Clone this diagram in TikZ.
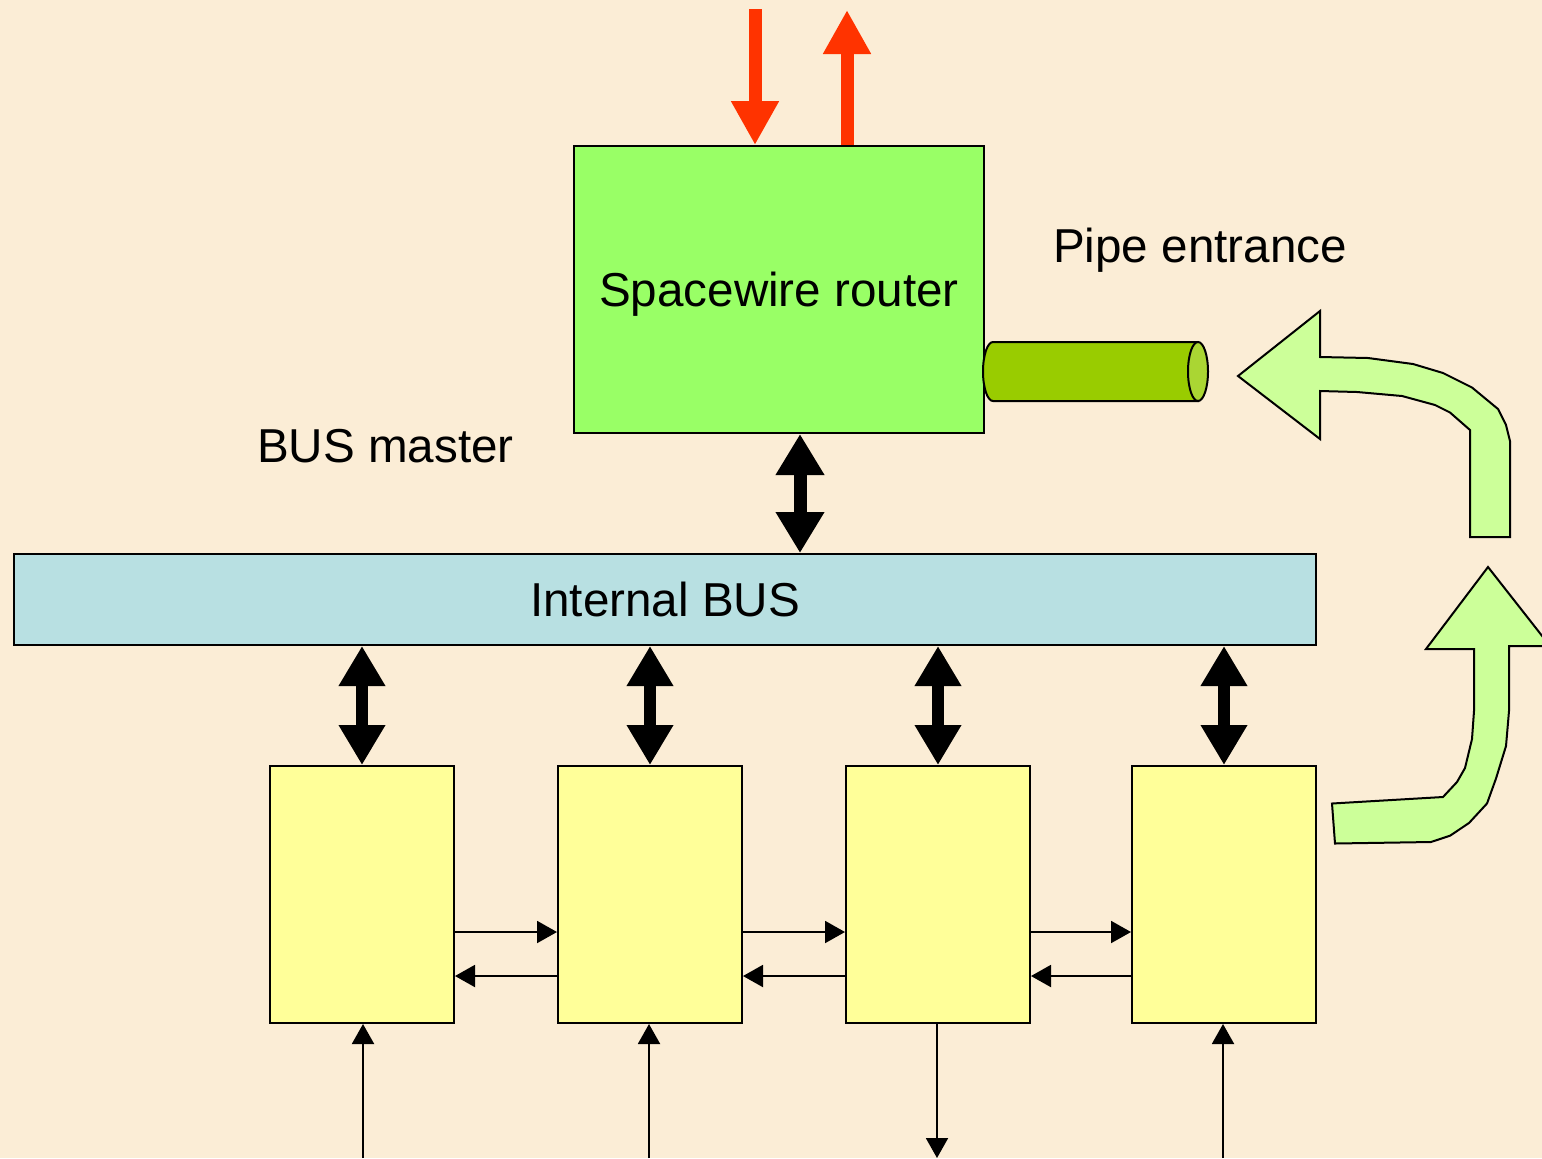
\documentclass[tikz,border=0pt]{standalone}
\usepackage{fontspec}
\setmainfont{Liberation Sans}
\usetikzlibrary{arrows.meta}
\definecolor{paper}{HTML}{FBEDD6}
\definecolor{routergreen}{HTML}{99FF66}
\definecolor{busblue}{HTML}{B8E0E2}
\definecolor{cellyellow}{HTML}{FFFF99}
\definecolor{pipegreen}{HTML}{99CC00}
\definecolor{pipeend}{HTML}{AAD633}
\definecolor{flowgreen}{HTML}{CCFF99}
\definecolor{linkred}{HTML}{FF3300}
\tikzset{
  labelfont/.style={font=\fontsize{23.8pt}{28pt}\selectfont},
  blockbox/.style={draw=black, line width=1pt, inner sep=0pt, labelfont},
  routerbox/.style={blockbox, fill=routergreen, minimum width=205pt, minimum height=143.5pt, text depth=0pt},
  busbox/.style={blockbox, fill=busblue, minimum width=651pt, minimum height=45.5pt},
  cellbox/.style={blockbox, fill=cellyellow, minimum width=92pt, minimum height=128.5pt},
  freetext/.style={labelfont, inner sep=0pt, anchor=base},
  busarrow/.style={line width=6.5pt,
    {Triangle[length=20.5pt,width=23pt]}-{Triangle[length=20.5pt,width=23pt]}},
  cellarrow/.style={line width=6pt,
    {Triangle[length=20pt,width=22pt]}-{Triangle[length=20pt,width=22pt]}},
  linkarrow/.style={draw=linkred, line width=6.5pt,
    -{Triangle[length=22pt,width=22.5pt]}, linkred},
  thinarrow/.style={line width=1pt, -{Triangle[length=10pt,width=11pt]}},
  flowarrow/.style={draw=black, line width=1pt, fill=flowgreen, line join=miter},
}
\begin{document}
\begin{tikzpicture}[x=0.5pt, y=-0.5pt]
  \useasboundingbox (0,0) rectangle (1542,1158);
  \fill[paper] (0,0) rectangle (1542,1158);

  % blocks
  \node[routerbox] (router) at (779,289.5) {Spacewire router};
  \node[busbox] (bus) at (665,599.5) {Internal BUS};
  \node[cellbox] (c1) at (362,894.5) {};
  \node[cellbox] (c2) at (650,894.5) {};
  \node[cellbox] (c3) at (938,894.5) {};
  \node[cellbox] (c4) at (1224,894.5) {};

  % labels
  \node[freetext] (pipelabel) at (1200,262) {Pipe entrance};
  \node[freetext] (masterlabel) at (385.5,462) {BUS master};

  % pipe leaving the router
  \draw[line width=1pt, fill=pipegreen] (1198,342) -- (993,342)
    arc[start angle=90, end angle=270, x radius=5pt, y radius=14.75pt]
    -- (1198,401) -- cycle;
  \draw[line width=1pt, fill=pipeend] (1198,371.5) ellipse[x radius=5pt, y radius=14.75pt];

  % curved flow arrows
  \draw[flowarrow] (1238,376) -- (1320,311) -- (1320,357) -- (1368,358)
    -- (1413,364) -- (1443,373) -- (1472,387.5) -- (1498,409) -- (1506,425)
    -- (1510,441) -- (1510,537) -- (1470,537) -- (1470,430) -- (1450,412.5)
    -- (1435,405) -- (1402,396) -- (1357,392) -- (1320,391) -- (1320,439) -- cycle;
  \draw[flowarrow] (1488,567) -- (1550,646) -- (1509,646) -- (1509,711)
    -- (1506,746) -- (1496,778.5) -- (1487,803.5) -- (1469,823) -- (1450,835.7)
    -- (1431,842) -- (1335,843.5) -- (1332,803.5) -- (1443,797) -- (1457,782)
    -- (1465,768) -- (1472,739) -- (1474,711) -- (1474,649) -- (1426,649) -- cycle;

  % external Spacewire link
  \coordinate (linkin) at (755,9);
  \coordinate (linkout) at (847,10);
  \draw[linkarrow] (linkin) -- (router.north -| linkin);
  \draw[linkarrow] (router.north -| linkout) -- (linkout);

  % router <-> bus
  \coordinate (rbx) at (800,0);
  \draw[busarrow] (router.south -| rbx) -- (bus.north -| rbx);

  % bus <-> cells
  \foreach \c in {c1,c2,c3,c4}
    \draw[cellarrow] (bus.south -| \c.north) -- (\c.north);

  % neighbour links between cells
  \coordinate (rowA) at (0,932);
  \coordinate (rowB) at (0,976);
  \foreach \a/\b in {c1/c2,c2/c3,c3/c4} {
    \draw[thinarrow] (\a.east |- rowA) -- (\b.west |- rowA);
    \draw[thinarrow] (\b.west |- rowB) -- (\a.east |- rowB);
  }

  % cell inputs and output
  \coordinate (in1) at (363,1158);
  \coordinate (in2) at (649,1158);
  \coordinate (out3) at (937,1158);
  \coordinate (in4) at (1223,1158);
  \draw[thinarrow] (in1) -- (c1.south -| in1);
  \draw[thinarrow] (in2) -- (c2.south -| in2);
  \draw[thinarrow] (c3.south -| out3) -- (out3);
  \draw[thinarrow] (in4) -- (c4.south -| in4);
\end{tikzpicture}
\end{document}
